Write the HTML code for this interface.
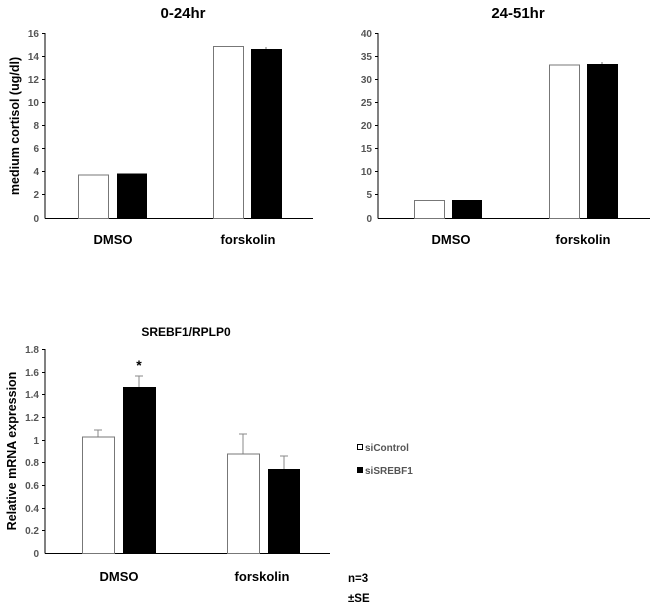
<!DOCTYPE html><html><head><style>body{margin:0;background:#fff}svg{display:block;font-family:"Liberation Sans",Arial,sans-serif}</style></head><body>
<svg width="651" height="609" viewBox="0 0 651 609">
<g font-weight="bold">
<text x="183" y="18" font-size="15" text-anchor="middle">0-24hr</text>
<text x="518" y="18" font-size="15" text-anchor="middle">24-51hr</text>
<text x="186" y="336" font-size="12" text-anchor="middle">SREBF1/RPLP0</text>
</g>
<!-- chart 1 -->
<g stroke="#000" stroke-width="1">
<line x1="45" y1="33" x2="45" y2="218.5"/><line x1="45" y1="218.5" x2="313" y2="218.5"/>
</g>
<g font-size="10" fill="#555" font-weight="bold" text-anchor="end">
<text x="39" y="37">16</text><text x="39" y="60">14</text><text x="39" y="83">12</text><text x="39" y="106">10</text><text x="39" y="129">8</text><text x="39" y="152">6</text><text x="39" y="175">4</text><text x="39" y="198">2</text><text x="39" y="222">0</text>
</g>
<g stroke="#000"><line x1="42" y1="33.5" x2="45" y2="33.5"/><line x1="42" y1="56.5" x2="45" y2="56.5"/><line x1="42" y1="79.5" x2="45" y2="79.5"/><line x1="42" y1="102.5" x2="45" y2="102.5"/><line x1="42" y1="125.5" x2="45" y2="125.5"/><line x1="42" y1="148.5" x2="45" y2="148.5"/><line x1="42" y1="171.5" x2="45" y2="171.5"/><line x1="42" y1="194.5" x2="45" y2="194.5"/></g>
<rect x="78.5" y="175" width="30" height="43.5" fill="#fff" stroke="#777"/>
<rect x="117" y="173.5" width="30" height="45" fill="#000"/>
<rect x="213.5" y="46.5" width="30" height="172" fill="#fff" stroke="#777"/>
<rect x="251" y="49" width="31" height="169.5" fill="#000"/>
<line x1="266" y1="47" x2="266" y2="49" stroke="#777"/>
<text transform="translate(19,126) rotate(-90)" font-size="12.5" font-weight="bold" text-anchor="middle">medium cortisol (ug/dl)</text>
<g font-size="13" font-weight="bold" text-anchor="middle"><text x="113" y="244">DMSO</text><text x="248" y="244">forskolin</text></g>
<!-- chart 2 -->
<g stroke="#000"><line x1="378" y1="33" x2="378" y2="218.5"/><line x1="378" y1="218.5" x2="650" y2="218.5"/>
<line x1="375" y1="33.5" x2="378" y2="33.5"/><line x1="375" y1="56.5" x2="378" y2="56.5"/><line x1="375" y1="79.5" x2="378" y2="79.5"/><line x1="375" y1="102.5" x2="378" y2="102.5"/><line x1="375" y1="125.5" x2="378" y2="125.5"/><line x1="375" y1="148.5" x2="378" y2="148.5"/><line x1="375" y1="171.5" x2="378" y2="171.5"/><line x1="375" y1="194.5" x2="378" y2="194.5"/></g>
<g font-size="10" fill="#555" font-weight="bold" text-anchor="end">
<text x="372" y="37">40</text><text x="372" y="60">35</text><text x="372" y="83">30</text><text x="372" y="106">25</text><text x="372" y="129">20</text><text x="372" y="152">15</text><text x="372" y="175">10</text><text x="372" y="198">5</text><text x="372" y="222">0</text>
</g>
<rect x="414.5" y="200.5" width="30" height="18" fill="#fff" stroke="#777"/>
<rect x="452" y="200" width="30" height="18.5" fill="#000"/>
<rect x="549.5" y="65" width="30" height="153.5" fill="#fff" stroke="#777"/>
<rect x="587" y="64" width="31" height="154.5" fill="#000"/>
<line x1="602" y1="62" x2="602" y2="64" stroke="#777"/>
<g font-size="13" font-weight="bold" text-anchor="middle"><text x="451" y="244">DMSO</text><text x="583" y="244">forskolin</text></g>
<!-- chart 3 -->
<g stroke="#000"><line x1="45" y1="349" x2="45" y2="553.5"/><line x1="45" y1="553.5" x2="330" y2="553.5"/></g>
<g stroke="#000">
<line x1="42" y1="349.5" x2="45" y2="349.5"/><line x1="42" y1="372.5" x2="45" y2="372.5"/><line x1="42" y1="394.5" x2="45" y2="394.5"/><line x1="42" y1="417.5" x2="45" y2="417.5"/><line x1="42" y1="440.5" x2="45" y2="440.5"/><line x1="42" y1="462.5" x2="45" y2="462.5"/><line x1="42" y1="485.5" x2="45" y2="485.5"/><line x1="42" y1="508.5" x2="45" y2="508.5"/><line x1="42" y1="530.5" x2="45" y2="530.5"/></g>
<g font-size="10" fill="#555" font-weight="bold" text-anchor="end">
<text x="39" y="353">1.8</text><text x="39" y="376">1.6</text><text x="39" y="398">1.4</text><text x="39" y="421">1.2</text><text x="39" y="444">1</text><text x="39" y="466">0.8</text><text x="39" y="489">0.6</text><text x="39" y="512">0.4</text><text x="39" y="534">0.2</text><text x="39" y="557">0</text>
</g>
<g stroke="#888" fill="none">
<path d="M98 437V430M94 430H102"/><path d="M139 387V376M135 376H143"/><path d="M243 454V434M239 434H247"/><path d="M284 469V456M280 456H288"/>
</g>
<rect x="82.5" y="437" width="32" height="116.5" fill="#fff" stroke="#777"/>
<rect x="123" y="387" width="33" height="166.5" fill="#000"/>
<rect x="227.5" y="454" width="32" height="99.5" fill="#fff" stroke="#777"/>
<rect x="268" y="469" width="32" height="84.5" fill="#000"/>
<text x="139" y="370" font-size="14" font-weight="bold" text-anchor="middle">*</text>
<text transform="translate(16,451) rotate(-90)" font-size="12.5" font-weight="bold" text-anchor="middle">Relative mRNA expression</text>
<g font-size="13" font-weight="bold" text-anchor="middle"><text x="119" y="581">DMSO</text><text x="262" y="581">forskolin</text></g>
<rect x="357.5" y="444.5" width="5" height="5" fill="#fff" stroke="#000"/>
<rect x="357" y="467" width="6" height="6" fill="#000"/>
<g font-size="10" fill="#555" font-weight="bold"><text x="365" y="451">siControl</text><text x="365" y="474">siSREBF1</text></g>
<g font-size="11.5" font-weight="bold"><text x="348" y="582">n=3</text><text x="348" y="602">±SE</text></g>
</svg></body></html>
